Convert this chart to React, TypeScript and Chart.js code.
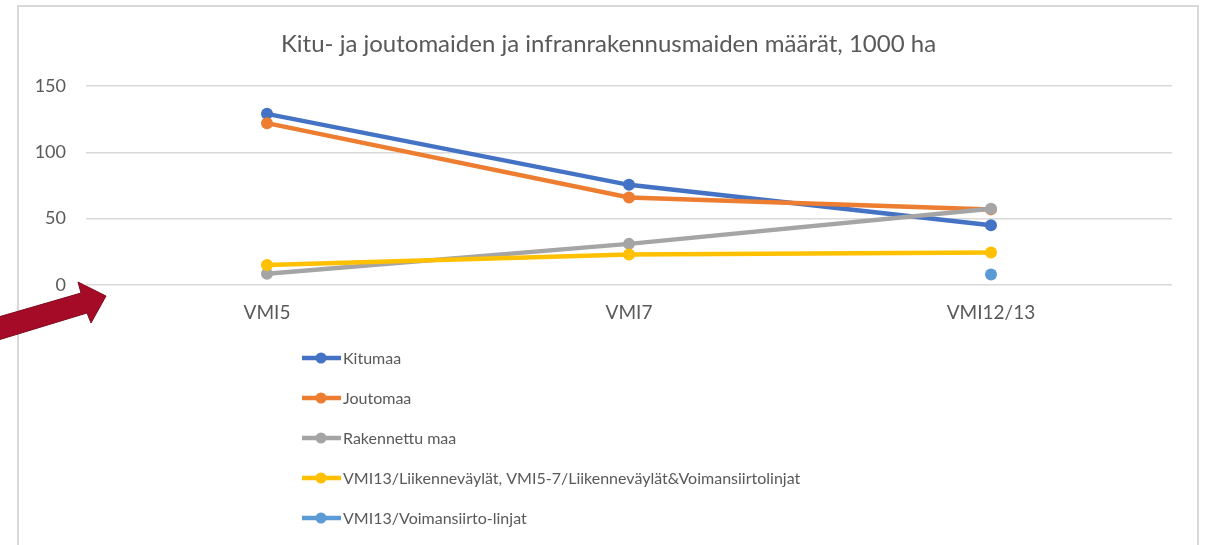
import React, { useEffect, useRef } from 'react';
import { Chart, registerables } from 'chart.js';

Chart.register(...registerables);

const FONT = 'Lato, "Noto Sans", sans-serif';
const TEXT = '#595959';

const chartTitle = 'Kitu- ja joutomaiden ja infranrakennusmaiden määrät, 1000 ha';
const categories = ['VMI5', 'VMI7', 'VMI12/13'];
const kitumaa = [129, 75.5, 45];
const joutomaa = [122, 66, 57];
const rakennettuMaa = [8.5, 31, 57.5];
const liikenneväylät = [15, 23, 24.5];
const voimansiirto = [null, null, 8];
const seriesLabels = [
  'Kitumaa',
  'Joutomaa',
  'Rakennettu maa',
  'VMI13/Liikenneväylät, VMI5-7/Liikenneväylät&Voimansiirtolinjat',
  'VMI13/Voimansiirto-linjat',
];
const seriesColors = ['#4472C4', '#ED7D31', '#A5A5A5', '#FFC000', '#5B9BD5'];
const yMax = 150;
const yStep = 50;

export default function App() {
  const ref = useRef<HTMLCanvasElement>(null);

  useEffect(() => {
    if (!ref.current) return;
    const values = [kitumaa, joutomaa, rakennettuMaa, liikenneväylät, voimansiirto];

    const titleAndLegendPlugin = {
      id: 'titleAndLegend',
      afterDraw(chart: any) {
        const ctx = chart.ctx;
        ctx.save();
        // title
        ctx.fillStyle = TEXT;
        ctx.font = `24px ${FONT}`;
        ctx.textAlign = 'center';
        ctx.textBaseline = 'middle';
        ctx.fillText(chartTitle, 608.5, 44);
        // vertical legend
        chart.data.datasets.forEach((ds: any, i: number) => {
          const y = 358 + i * 40;
          ctx.strokeStyle = ds.borderColor;
          ctx.lineWidth = 4.5;
          ctx.lineCap = 'butt';
          ctx.beginPath();
          ctx.moveTo(302, y);
          ctx.lineTo(341, y);
          ctx.stroke();
          ctx.fillStyle = ds.borderColor;
          ctx.beginPath();
          ctx.arc(321, y, 5.5, 0, Math.PI * 2);
          ctx.fill();
          ctx.fillStyle = TEXT;
          ctx.font = `16px ${FONT}`;
          ctx.textAlign = 'left';
          ctx.textBaseline = 'middle';
          ctx.fillText(ds.label, 343, y + 1);
        });
        ctx.restore();
      },
    };

    const chart = new Chart(ref.current, {
      type: 'line',
      data: {
        labels: categories,
        datasets: seriesLabels.map((label, i) => ({
          label,
          data: values[i],
          borderColor: seriesColors[i],
          backgroundColor: seriesColors[i],
          pointBackgroundColor: seriesColors[i],
          pointBorderColor: seriesColors[i],
          borderWidth: 4.5,
          pointRadius: 6,
          pointBorderWidth: 0,
          fill: false,
          tension: 0,
          spanGaps: false,
          order: seriesLabels.length - i,
        })),
      },
      options: {
        responsive: false,
        animation: false,
        layout: { padding: { left: 0, right: 35, top: 86, bottom: 210 } },
        plugins: {
          legend: { display: false },
          tooltip: { enabled: false },
          title: { display: false },
        },
        scales: {
          x: {
            offset: true,
            grid: { display: false, drawTicks: false },
            border: { display: false },
            ticks: { color: TEXT, font: { family: FONT, size: 19 }, padding: 16 },
            afterFit: (s: any) => { s.height = 50; },
          },
          y: {
            min: 0,
            max: yMax,
            ticks: { stepSize: yStep, color: TEXT, font: { family: FONT, size: 18 }, padding: 20 },
            grid: { color: '#d9d9d9', lineWidth: 1.5, drawTicks: false },
            border: { display: false },
            afterFit: (s: any) => { s.width = 86; },
          },
        },
      },
      plugins: [titleAndLegendPlugin],
    });
    return () => chart.destroy();
  }, []);

  return (
    <div style={{ position: 'fixed', left: 0, top: 0, width: 1207, height: 545, background: '#fff', overflow: 'hidden' }}>
      <div style={{ position: 'absolute', left: 17, top: 5, width: 1182, height: 620, border: '2px solid #d9d9d9', boxSizing: 'border-box' }} />
      <canvas ref={ref} width={1207} height={545} style={{ position: 'absolute', left: 0, top: 0 }} />
      <svg width={1207} height={545} style={{ position: 'absolute', left: 0, top: 0, pointerEvents: 'none' }}>
        <polygon
          points="-5,318 81,293 78,282 106,296 91,323 87,313 -5,341"
          fill="#A50B26"
          stroke="#7E0A1E"
          strokeWidth={1}
          strokeLinejoin="miter"
        />
      </svg>
    </div>
  );
}
